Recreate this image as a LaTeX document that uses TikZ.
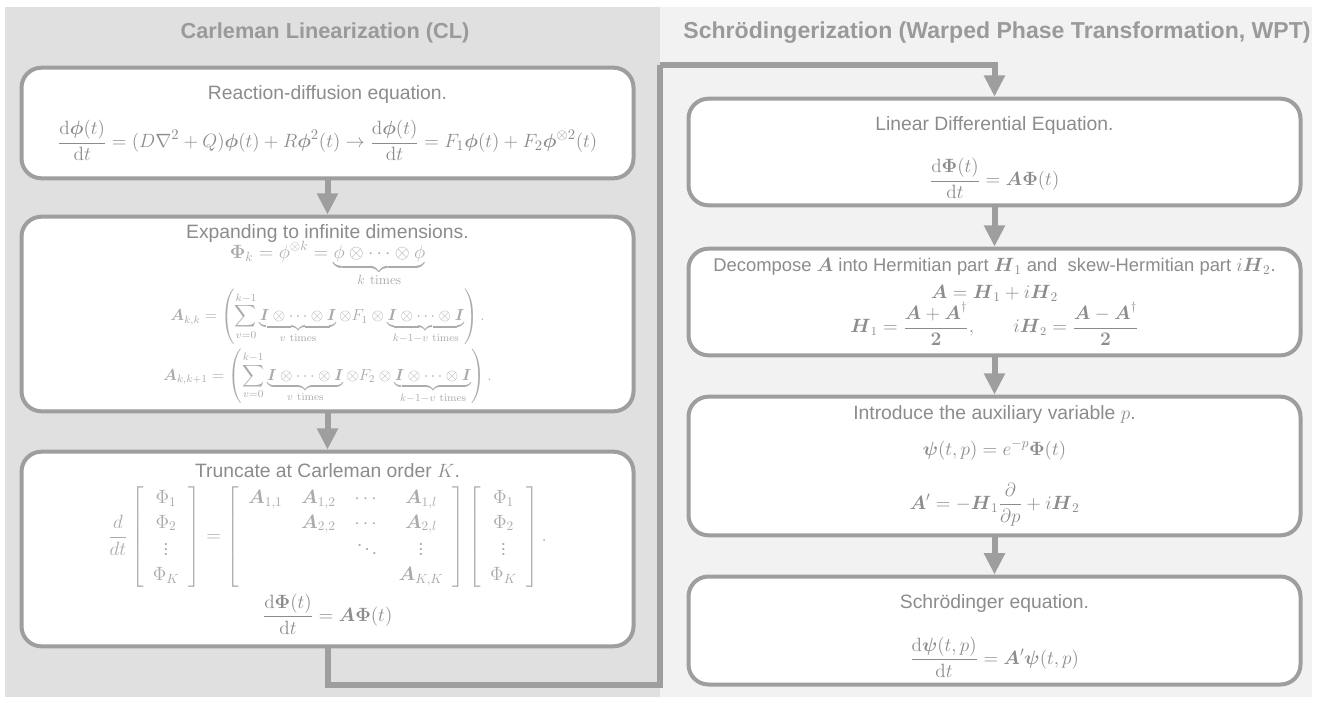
\documentclass[tikz,border=0pt]{standalone}
\usepackage{amsmath}
\usepackage{amssymb}
\usepackage[no-math]{fontspec}
\setmainfont{Liberation Sans}
\usetikzlibrary{arrows.meta}
\definecolor{panelL}{HTML}{E0E0E0}
\definecolor{panelR}{HTML}{F2F2F2}
\definecolor{linegray}{HTML}{9E9E9E}
\definecolor{headgray}{HTML}{9A9A9A}
\definecolor{txtgray}{HTML}{8C8C8C}
\definecolor{mathlight}{HTML}{ABABAB}
\newcommand{\lightmath}[2][11]{{\fontsize{#1}{#1}\selectfont\color{mathlight}$\displaystyle #2$}}
\newcommand{\eqsize}[2][15]{{\fontsize{#1}{#1}\selectfont$\displaystyle #2$}}
\newcommand{\Itimes}{\boldsymbol{I}\otimes\cdots\otimes\boldsymbol{I}}

\begin{document}
\begin{tikzpicture}[x=0.75pt,y=-0.75pt,
heading/.style = {font=\fontsize{#1}{19}\selectfont\bfseries, text=headgray},
stepbox/.style = {draw=linegray, line width=3pt, fill=white, rounded corners=15pt,
    minimum width=459pt, minimum height=#1, align=center, text=txtgray,
    font=\fontsize{14.5}{17}\selectfont, inner sep=2pt},
flow/.style = {draw=linegray, line width=4.5pt, -{Triangle[width=15pt,length=16pt]}}
                        ]
\useasboundingbox (0,0) rectangle (1318,703);
\fill[white] (0,0) rectangle (1318,703);
\fill[panelL] (5,7) rectangle (660,697);
\fill[panelR] (660,7) rectangle (1312,697);

    % column titles
    \node[heading=16.3] (titleCL) at (325,33) {Carleman Linearization (CL)};
    \node[heading=17.3] (titleWPT) at (997,33) {Schrödingerization (Warped Phase Transformation, WPT)};

    % left column
    \node[stepbox=83pt] (react) at (327.5,123) {Reaction-diffusion equation.\\[12pt]
    \eqsize[15.5]{\frac{\mathrm{d}\boldsymbol{\phi}(t)}{\mathrm{d}t}=(D\nabla^2+Q)\boldsymbol{\phi}(t)+R\boldsymbol{\phi}^2(t)\rightarrow\frac{\mathrm{d}\boldsymbol{\phi}(t)}{\mathrm{d}t}=F_1\boldsymbol{\phi}(t)+F_2\boldsymbol{\phi}^{\otimes2}(t)}};
    \node[stepbox=146pt] (expand) at (327.5,314) {Expanding to infinite dimensions.\\[-2pt]
    \lightmath[14]{\boldsymbol{\Phi}_k=\phi^{\otimes k}=\underbrace{\phi\otimes\cdots\otimes\phi}_{k\ \mathrm{times}}}\\[1pt]
    \lightmath[11.5]{\boldsymbol{A}_{k,k}=\left(\sum_{v=0}^{k-1}\underbrace{\Itimes}_{v\ \mathrm{times}}\otimes F_1\otimes\underbrace{\Itimes}_{k-1-v\ \mathrm{times}}\right).}\\[2pt]
    \lightmath[11.5]{\boldsymbol{A}_{k,k+1}=\left(\sum_{v=0}^{k-1}\underbrace{\Itimes}_{v\ \mathrm{times}}\otimes F_2\otimes\underbrace{\Itimes}_{k-1-v\ \mathrm{times}}\right).}};
    \node[stepbox=146pt] (trunc) at (327.5,549) {Truncate at Carleman order $K$.\\[6pt]
    {\arraycolsep=7pt\renewcommand{\arraystretch}{1.3}\lightmath[14]{\frac{d}{dt}\left[\begin{array}{c}\Phi_1\\\Phi_2\\\vdots\\\Phi_K\end{array}\right]=\left[\begin{array}{cccc}\boldsymbol{A}_{1,1}&\boldsymbol{A}_{1,2}&\cdots&\boldsymbol{A}_{1,l}\\&\boldsymbol{A}_{2,2}&\cdots&\boldsymbol{A}_{2,l}\\&&\ddots&\vdots\\&&&\boldsymbol{A}_{K,K}\end{array}\right]\left[\begin{array}{c}\Phi_1\\\Phi_2\\\vdots\\\Phi_K\end{array}\right].}}\\[4pt]
    \eqsize[14]{\frac{\mathrm{d}\boldsymbol{\Phi}(t)}{\mathrm{d}t}=\boldsymbol{A}\boldsymbol{\Phi}(t)}};

    % right column
    \node[stepbox=80pt] (linear) at (994.5,152) {\rule{0pt}{19pt}Linear Differential Equation.\\[17pt]
    \eqsize[14]{\frac{\mathrm{d}\boldsymbol{\Phi}(t)}{\mathrm{d}t}=\boldsymbol{A}\boldsymbol{\Phi}(t)}};
    \node[stepbox=80pt] (decomp) at (994.5,302) {{\fontsize{13.8}{17}\selectfont Decompose $\boldsymbol{A}$ into Hermitian part $\boldsymbol{H}_1$ and\ \ skew-Hermitian part $i\boldsymbol{H}_2$.}\\[3pt]
    \eqsize[14]{\boldsymbol{A}=\boldsymbol{H}_1+i\boldsymbol{H}_2}\\[0pt]
    \eqsize[13.5]{\boldsymbol{H}_1=\frac{\boldsymbol{A}+\boldsymbol{A}^{\dagger}}{\boldsymbol{2}},\qquad i\boldsymbol{H}_2=\frac{\boldsymbol{A}-\boldsymbol{A}^{\dagger}}{\boldsymbol{2}}}};
    \node[stepbox=104pt] (aux) at (994.5,466) {Introduce the auxiliary variable $p$.\\[10pt]
    \eqsize[14]{\boldsymbol{\psi}(t,p)=e^{-p}\boldsymbol{\Phi}(t)}\\[16pt]
    \eqsize[14]{\boldsymbol{A}'=-\boldsymbol{H}_1\frac{\partial}{\partial p}+i\boldsymbol{H}_2}};
    \node[stepbox=81pt] (schr) at (994.5,630.5) {\rule{0pt}{19pt}Schrödinger equation.\\[17pt]
    \eqsize[14]{\frac{\mathrm{d}\boldsymbol{\psi}(t,p)}{\mathrm{d}t}=\boldsymbol{A}'\boldsymbol{\psi}(t,p)}};

    % connectors
    \coordinate (bendA) at (660,685);
    \coordinate (bendB) at (660,65);
    \draw[flow] (react) -- (expand);
    \draw[flow] (expand) -- (trunc);
    \draw[flow, -] (trunc.south) |- (bendA) -- (bendB);
    \draw[flow] (bendB) -| (linear.north);
    \draw[flow] (linear) -- (decomp);
    \draw[flow] (decomp) -- (aux);
    \draw[flow] (aux) -- (schr);

\end{tikzpicture}
\end{document}
